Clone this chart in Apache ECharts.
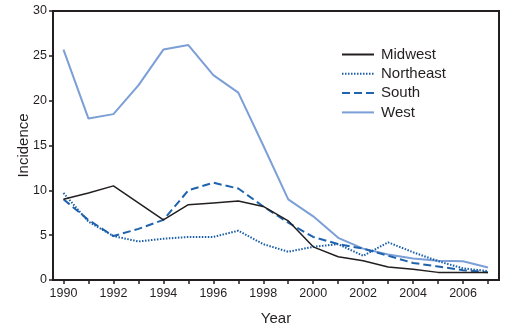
<!DOCTYPE html>
<html><head><meta charset="utf-8">
<script src="https://cdn.jsdelivr.net/npm/echarts@6/dist/echarts.min.js"></script>
<style>html,body{margin:0;padding:0;background:#fff}#c{width:524px;height:328px}</style>
</head><body><div id="c"></div>
<script>
const years = [1990,1991,1992,1993,1994,1995,1996,1997,1998,1999,2000,2001,2002,2003,2004,2005,2006,2007];
const midwest   = [9.0,9.7,10.5,8.6,6.7,8.4,8.6,8.8,8.2,6.6,3.7,2.6,2.15,1.45,1.2,0.85,0.85,0.85];
const northeast = [9.7,6.5,4.9,4.3,4.6,4.8,4.8,5.5,4.0,3.15,3.7,4.0,2.7,4.2,3.1,2.1,1.3,1.0];
const south     = [9.0,6.7,4.9,5.7,6.7,10.0,10.85,10.2,8.2,6.4,4.8,4.0,3.5,2.7,1.9,1.5,1.1,0.85];
const west      = [25.7,18.0,18.5,21.7,25.7,26.2,22.85,20.9,15.0,9.0,7.1,4.7,3.5,2.85,2.4,2.15,2.1,1.4];
const yTicks = [0,5,10,15,20,25,30];
const xLabelYears = [1990,1992,1994,1996,1998,2000,2002,2004,2006];

const font = 'Liberation Sans, Arial, Helvetica, sans-serif';
const pair = arr => years.map((y,i)=>[y,arr[i]]);
const chart = echarts.init(document.getElementById('c'), null, {renderer:'canvas'});
chart.setOption({
  animation:false,
  grid:{left:53,right:25,top:11,bottom:48,outerBoundsMode:'none',containLabel:false,show:true,borderColor:'#231f20',borderWidth:2,backgroundColor:'transparent'},
  legend:{
    orient:'vertical', left:341, top:47, padding:0, itemGap:4.3, itemWidth:32, itemHeight:14,
    itemStyle:{opacity:0},
    textStyle:{fontFamily:font,fontSize:15,color:'#231f20',padding:[0,0,0,2]},
    data:['Midwest','Northeast','South','West']
  },
  xAxis:{
    type:'value', min:1989.58, max:2007.44,
    name:'Year', nameLocation:'middle', nameGap:31, nameMoveOverlap:false,
    nameTextStyle:{fontFamily:font,fontSize:15,color:'#231f20'},
    axisLine:{show:true,lineStyle:{color:'#231f20',width:2}},
    axisTick:{show:true,length:4,lineStyle:{color:'#231f20',width:1.5},customValues:years},
    axisLabel:{fontFamily:font,fontSize:12.5,color:'#231f20',margin:7,customValues:xLabelYears,formatter:v=>String(v)},
    splitLine:{show:false}
  },
  yAxis:{
    type:'value', min:0, max:30, interval:5,
    name:'Incidence', nameLocation:'middle', nameGap:22, nameRotate:90, nameMoveOverlap:false,
    nameTextStyle:{fontFamily:font,fontSize:15,color:'#231f20'},
    axisLine:{show:true,lineStyle:{color:'#231f20',width:2}},
    axisTick:{show:true,length:4,lineStyle:{color:'#231f20',width:1.5},customValues:yTicks},
    axisLabel:{fontFamily:font,fontSize:12.5,color:'#231f20',margin:6,customValues:yTicks},
    splitLine:{show:false}
  },
  series:[
    {name:'Midwest',type:'line',data:pair(midwest),showSymbol:false,symbol:'none',
     lineStyle:{color:'#231f20',width:1.5},itemStyle:{color:'#231f20'},z:5},
    {name:'Northeast',type:'line',data:pair(northeast),showSymbol:false,symbol:'none',
     lineStyle:{color:'#1a5ea8',width:2,type:[1.5,1.5]},itemStyle:{color:'#1a5ea8'},z:4},
    {name:'South',type:'line',data:pair(south),showSymbol:false,symbol:'none',
     lineStyle:{color:'#1f63ad',width:2,type:[8,4]},itemStyle:{color:'#1f63ad'},z:3},
    {name:'West',type:'line',data:pair(west),showSymbol:false,symbol:'none',
     lineStyle:{color:'#7b9fd6',width:2},itemStyle:{color:'#7b9fd6'},z:2}
  ]
});
</script></body></html>
